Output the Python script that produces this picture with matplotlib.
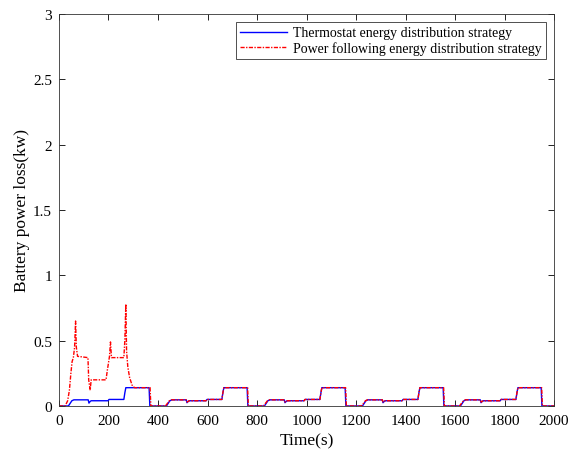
import numpy as np
import matplotlib
matplotlib.use("Agg")
import matplotlib.pyplot as plt

plt.rcParams['font.family'] = ['Liberation Serif', 'DejaVu Serif']

# Thermostat strategy, breakpoints (s, kW)
t_blue = [0, 38, 45, 52, 60, 118, 121, 126, 130, 198, 202, 262, 266, 270, 364, 367,
          396, 434, 441, 448, 456, 514, 517, 522, 526, 594, 598, 658, 662, 666, 760, 763,
          792, 830, 837, 844, 852, 910, 913, 918, 922, 990, 994, 1054, 1058, 1062, 1156, 1159,
          1188, 1226, 1233, 1240, 1248, 1306, 1309, 1314, 1318, 1386, 1390, 1450, 1454, 1458, 1552, 1555,
          1584, 1622, 1629, 1636, 1644, 1702, 1705, 1710, 1714, 1782, 1786, 1846, 1850, 1854, 1948, 1951,
          2000]
p_blue = [0, 0, 0.02, 0.04, 0.047, 0.047, 0.022, 0.035, 0.04, 0.04, 0.05, 0.05, 0.10, 0.14, 0.14, 0,
          0, 0, 0.02, 0.04, 0.047, 0.047, 0.025, 0.035, 0.04, 0.04, 0.05, 0.05, 0.10, 0.14, 0.14, 0,
          0, 0, 0.02, 0.04, 0.047, 0.047, 0.025, 0.035, 0.04, 0.04, 0.05, 0.05, 0.10, 0.14, 0.14, 0,
          0, 0, 0.02, 0.04, 0.047, 0.047, 0.025, 0.035, 0.04, 0.04, 0.05, 0.05, 0.10, 0.14, 0.14, 0,
          0, 0, 0.02, 0.04, 0.047, 0.047, 0.025, 0.035, 0.04, 0.04, 0.05, 0.05, 0.10, 0.14, 0.14, 0,
          0]

# Power following strategy, breakpoints (s, kW)
t_red = [0, 25, 35, 42, 48, 53, 58, 63, 67, 70, 75, 117, 120, 126, 130, 190, 195, 200, 204, 208, 212,
         262, 266, 270, 273, 278, 285, 295, 305, 368, 371,
         396, 430, 438, 446, 454, 514, 518, 523, 527, 594, 598, 658, 662, 666, 762, 765,
         792, 826, 834, 842, 850, 910, 914, 919, 923, 990, 994, 1054, 1058, 1062, 1158, 1161,
         1188, 1222, 1230, 1238, 1246, 1306, 1310, 1315, 1319, 1386, 1390, 1450, 1454, 1458, 1554, 1557,
         1584, 1618, 1626, 1634, 1642, 1702, 1706, 1711, 1715, 1782, 1786, 1846, 1850, 1854, 1950, 1953,
         2000]
p_red = [0, 0, 0.04, 0.12, 0.25, 0.34, 0.37, 0.45, 0.65, 0.45, 0.38, 0.37, 0.2, 0.12, 0.2, 0.2, 0.27, 0.33, 0.38, 0.49, 0.37,
         0.37, 0.5, 0.78, 0.42, 0.3, 0.22, 0.16, 0.14, 0.14, 0,
         0, 0, 0.02, 0.04, 0.047, 0.047, 0.03, 0.037, 0.04, 0.04, 0.05, 0.05, 0.10, 0.14, 0.14, 0,
         0, 0, 0.02, 0.04, 0.047, 0.047, 0.03, 0.037, 0.04, 0.04, 0.05, 0.05, 0.10, 0.14, 0.14, 0,
         0, 0, 0.02, 0.04, 0.047, 0.047, 0.03, 0.037, 0.04, 0.04, 0.05, 0.05, 0.10, 0.14, 0.14, 0,
         0, 0, 0.02, 0.04, 0.047, 0.047, 0.03, 0.037, 0.04, 0.04, 0.05, 0.05, 0.10, 0.14, 0.14, 0,
         0]

fig = plt.figure(figsize=(5.7, 4.52), dpi=100)
ax = fig.add_axes([0.1035, 0.0996, 0.8685, 0.8674])

ax.plot(t_blue, p_blue, color='blue', lw=1.0, label='Thermostat energy distribution strategy')
ax.plot(t_red, p_red, color='red', lw=1.0, ls=(0, (3, 1, 1, 1)),
        label='Power following energy distribution strategy')

ax.set_xlim(0, 2000)
ax.set_ylim(0, 3)
ax.set_xticks(np.arange(0, 2001, 200))
ax.set_yticks(np.arange(0, 3.01, 0.5))
ax.set_yticklabels(['0', '0.5', '1', '1.5', '2', '2.5', '3'])
ax.tick_params(direction='in', top=True, right=True, labelsize=11, length=4, width=0.6)
ax.tick_params(axis='x', pad=6)
ax.tick_params(axis='y', pad=5)
for s in ax.spines.values():
    s.set_linewidth(0.6)
    s.set_color('#333333')

ax.set_xlabel('Time(s)', fontsize=12.5, labelpad=4)
ax.set_ylabel('Battery power loss(kw)', fontsize=12.5, labelpad=2)

leg = ax.legend(loc='upper right', fontsize=10, fancybox=False, framealpha=1,
                edgecolor='#333333', borderpad=0.3, handlelength=3.4, handletextpad=0.4,
                labelspacing=0.15, borderaxespad=0.6)
leg.get_frame().set_linewidth(0.6)

fig.savefig('out.png', dpi=100)
